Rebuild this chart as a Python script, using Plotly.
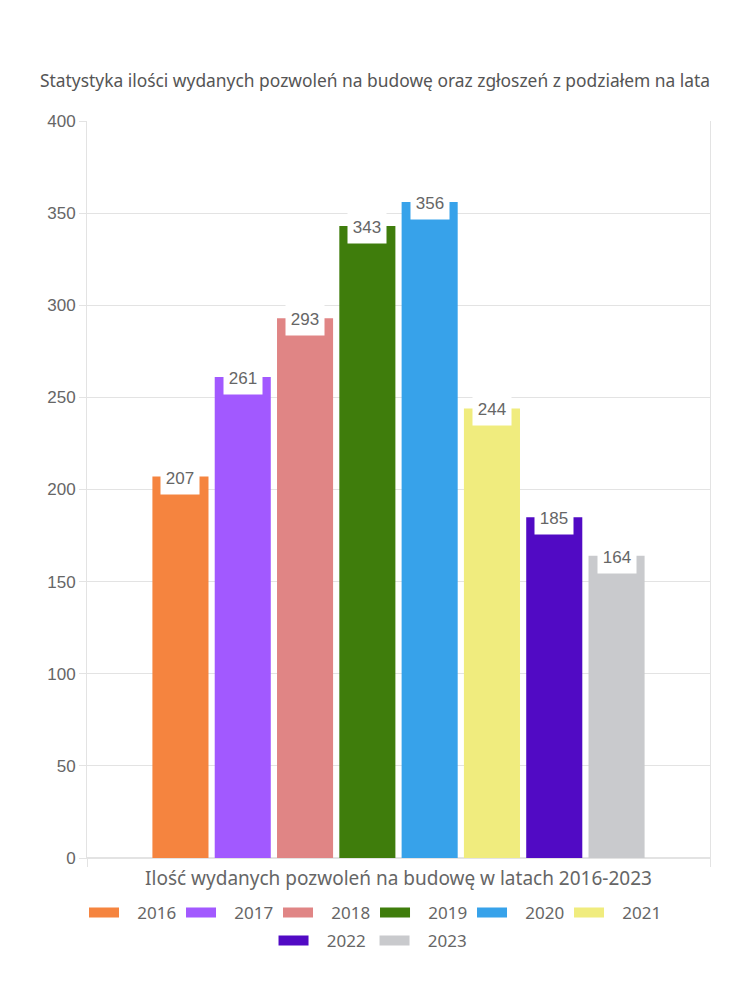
import plotly.graph_objects as go

years = ["2016", "2017", "2018", "2019", "2020", "2021", "2022", "2023"]
values = [207, 261, 293, 343, 356, 244, 185, 164]
colors = ["#F5843F", "#A259FF", "#E08585", "#3F7D0C", "#37A2EA", "#F0EC7E", "#510AC4", "#C9CACD"]
category = "Ilość wydanych pozwoleń na budowę w latach 2016-2023"
title_text = "Statystyka ilości wydanych pozwoleń na budowę oraz zgłoszeń z podziałem na lata"
y_ticks = [0, 50, 100, 150, 200, 250, 300, 350, 400]

TXT = "#666666"
GRID = "#E3E3E3"
LFONT = "Noto Sans, Lato, sans-serif"
NFONT = "Liberation Sans, Arial, sans-serif"

fig = go.Figure()
bargap = 0.2
groupgap = 0.1
n = len(years)
slot = (1 - bargap) / n

for i, (yr, v, c) in enumerate(zip(years, values, colors)):
    fig.add_trace(go.Bar(
        x=[category], y=[v], name=yr, marker=dict(color=c, line=dict(width=0)),
        showlegend=False, hoverinfo="y"))
    # legend-only swatch (wide rectangle)
    fig.add_trace(go.Scatter(
        x=[None], y=[None], mode="lines", name="\u00a0\u00a0\u00a0" + yr,
        line=dict(color=c, width=18),
        legend="legend" if i < 6 else "legend2"))
    xpos = -(1 - bargap) / 2 + slot * (i + 0.5)
    fig.add_annotation(
        x=xpos, y=v, xref="x", yref="y", text=str(v), showarrow=False,
        bgcolor="white", width=36, height=30, yanchor="middle", yshift=-1,
        font=dict(family=NFONT, size=17, color=TXT))

fig.update_layout(
    width=750, height=1000,
    margin=dict(l=87, r=40, t=121, b=142),
    paper_bgcolor="white", plot_bgcolor="white",
    barmode="group", bargap=bargap, bargroupgap=groupgap,
    title=dict(text=title_text, x=0.5, xref="container", xanchor="center",
               y=1 - 81 / 1000, yref="container", yanchor="middle",
               font=dict(family=LFONT, size=17.4, color="#555555")),
    xaxis=dict(type="category", showticklabels=False, tickson="boundaries",
               ticks="outside", ticklen=8, tickcolor=GRID,
               showgrid=True, gridcolor=GRID, showline=True, linecolor=GRID,
               title=dict(text=category, standoff=13,
                          font=dict(family=LFONT, size=19, color=TXT))),
    yaxis=dict(range=[0, 400], tickvals=y_ticks, showgrid=True, gridcolor=GRID,
               ticks="outside", ticklen=7, tickcolor=GRID,
               showline=True, linecolor=GRID, mirror=True,
               zeroline=True, zerolinecolor=GRID,
               tickfont=dict(family=NFONT, size=17, color=TXT)),
    legend=dict(orientation="h", x=0.4623, xanchor="center",
                y=-0.05, yanchor="top", yref="paper",
                font=dict(family=LFONT, size=17, color=TXT),
                entrywidth=52, itemsizing="trace"),
    legend2=dict(orientation="h", x=0.2994, xanchor="left",
                 y=-0.088, yanchor="top", yref="paper",
                 font=dict(family=LFONT, size=17, color=TXT),
                 entrywidth=56, itemsizing="trace"),
)

fig.write_html("out.html")
